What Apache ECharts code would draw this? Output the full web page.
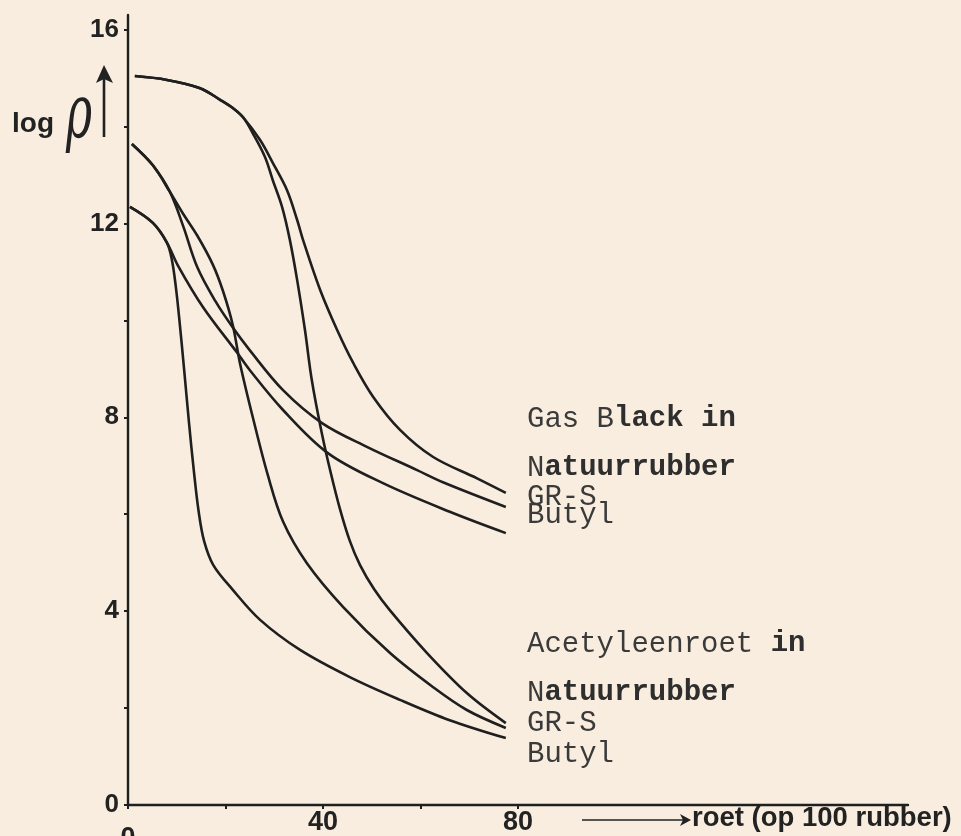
<!DOCTYPE html>
<html>
<head>
<meta charset="utf-8">
<script src="https://cdn.jsdelivr.net/npm/echarts@6/dist/echarts.min.js"></script>
<style>
  html, body { margin: 0; padding: 0; background: #f8edde; }
  #chart { width: 961px; height: 836px; }
</style>
</head>
<body>
<div id="chart"></div>
<script>
// Axis ticks and labels
const xTickValues = [0, 20, 40, 60, 80];
const xLabelValues = [0, 40, 80];
const yTickValues = [0, 2, 4, 6, 8, 10, 12, 14, 16];
const yLabelValues = [0, 4, 8, 12, 16];

// log ρ against parts of carbon black per 100 parts rubber
const gasBlackNatuurrubber = [
  [1.4, 15.04], [8.0, 14.96], [14.8, 14.79], [18.9, 14.55], [21.5, 14.38], [23.6, 14.19],
  [27.1, 13.72], [29.7, 13.25], [32.6, 12.69], [34.7, 12.07], [35.9, 11.66], [39.4, 10.63],
  [42.9, 9.80], [46.2, 9.12], [50.3, 8.42], [55.8, 7.74], [62.6, 7.18], [71.6, 6.74], [77.5, 6.44]
];
const gasBlackGRS = [
  [0.8, 13.64], [5.1, 13.2], [8.6, 12.65], [11.3, 11.95], [14.2, 11.1], [17.9, 10.4],
  [21.5, 9.85], [25.0, 9.38], [31.8, 8.56], [39.8, 7.88], [49.0, 7.39], [59.3, 6.91],
  [64.6, 6.66], [77.5, 6.15]
];
const gasBlackButyl = [
  [0.4, 12.34], [5.1, 12.01], [8.0, 11.6], [10.3, 11.12], [15.4, 10.27], [22.4, 9.33],
  [25.0, 8.97], [31.8, 8.15], [41.0, 7.26], [52.3, 6.64], [66.0, 6.05], [77.5, 5.61]
];
const acetyleenNatuurrubber = [
  [1.4, 15.04], [8.0, 14.96], [14.8, 14.79], [18.9, 14.55], [21.5, 14.38], [23.6, 14.19],
  [25.6, 13.86], [28.1, 13.37], [29.7, 12.89], [31.6, 12.34], [33.2, 11.66], [34.7, 10.83],
  [36.3, 9.80], [37.7, 8.77], [39.8, 7.65], [41.6, 6.85], [43.5, 6.1], [45.5, 5.45],
  [47.6, 4.95], [50.5, 4.45], [53.7, 4.02], [61.3, 3.14], [69.5, 2.31], [77.5, 1.69]
];
const acetyleenGRS = [
  [0.8, 13.64], [5.1, 13.2], [8.6, 12.65], [11.3, 12.2], [14.2, 11.75], [17.4, 11.15],
  [19.5, 10.6], [21.5, 9.9], [23.0, 9.1], [25.6, 8.0], [28.7, 6.8], [31.8, 5.85],
  [36.7, 4.99], [44.1, 4.09], [53.7, 3.14], [62.6, 2.43], [69.5, 1.96], [77.5, 1.59]
];
const acetyleenButyl = [
  [0.4, 12.34], [5.1, 12.01], [8.0, 11.6], [9.0, 11.25], [9.8, 10.7], [10.6, 9.95],
  [11.5, 9.0], [12.5, 7.9], [13.5, 6.9], [14.5, 6.05], [15.6, 5.45], [17.5, 4.95],
  [21.5, 4.44], [27.1, 3.82], [35.3, 3.20], [45.5, 2.64], [55.8, 2.17], [66.0, 1.75], [77.5, 1.38]
];

const ink = '#1f1f1f';
const typeInk = '#3a3a3a';
const typeFont = '"Liberation Mono", "Courier New", monospace';
const sansFont = '"Liberation Sans", Arial, sans-serif';

function curve(name, data) {
  return {
    name: name,
    type: 'line',
    data: data,
    smooth: 0.35,
    showSymbol: false,
    lineStyle: { color: ink, width: 2.6 },
    z: 3
  };
}

// Typewritten caption line; r = plain strike, b = heavy strike
function typed(x, y, text) {
  return {
    type: 'text',
    x: x, y: y,
    style: {
      text: text,
      fill: typeInk,
      font: '29px ' + typeFont,
      verticalAlign: 'middle',
      rich: {
        r: { fontFamily: typeFont, fontSize: 29, fontWeight: 'normal', fill: typeInk },
        b: { fontFamily: typeFont, fontSize: 29, fontWeight: 'bold', fill: '#2e2e2e' }
      }
    }
  };
}

const chart = echarts.init(document.getElementById('chart'), null, { renderer: 'canvas' });
chart.setOption({
  backgroundColor: '#f8edde',
  animation: false,
  grid: { left: 128, right: 53, top: 15, bottom: 31, containLabel: false, outerBoundsMode: 'none' },
  xAxis: {
    type: 'value',
    min: 0,
    max: 160,
    splitLine: { show: false },
    axisLine: { lineStyle: { color: ink, width: 2.4 } },
    axisTick: { customValues: xTickValues, length: 4, lineStyle: { color: ink, width: 2 } },
    axisLabel: {
      customValues: xLabelValues,
      margin: 4,
      color: '#222',
      fontFamily: sansFont,
      fontWeight: 'bold',
      fontSize: 27,
      formatter: v => v === 0 ? '{lo|0}' : String(v),
      rich: { lo: { padding: [16, 0, 0, 0], fontFamily: sansFont, fontWeight: 'bold', fontSize: 27, color: '#222' } }
    }
  },
  yAxis: {
    type: 'value',
    min: 0,
    max: 16.3,
    splitLine: { show: false },
    axisLine: { lineStyle: { color: ink, width: 2.4 } },
    axisTick: { customValues: yTickValues, length: 4, lineStyle: { color: ink, width: 2 } },
    axisLabel: {
      customValues: yLabelValues,
      margin: 9,
      color: '#222',
      fontFamily: sansFont,
      fontWeight: 'bold',
      fontSize: 26
    }
  },
  series: [
    curve('Gas Black – Natuurrubber', gasBlackNatuurrubber),
    curve('Gas Black – GR-S', gasBlackGRS),
    curve('Gas Black – Butyl', gasBlackButyl),
    curve('Acetyleenroet – Natuurrubber', acetyleenNatuurrubber),
    curve('Acetyleenroet – GR-S', acetyleenGRS),
    curve('Acetyleenroet – Butyl', acetyleenButyl)
  ],
  graphic: [
    // y-axis title: log ρ with upward arrow
    {
      type: 'text', x: 12, y: 124,
      style: { text: 'log', fill: '#222', font: 'bold 28px ' + sansFont, verticalAlign: 'middle' }
    },
    {
      type: 'text', x: 79, y: 118, scaleX: 0.6, scaleY: 1,
      style: { text: 'ρ', fill: '#222', font: 'italic 74px "DejaVu Serif", serif', align: 'center', verticalAlign: 'middle' }
    },
    {
      type: 'line',
      shape: { x1: 104, y1: 137, x2: 104, y2: 76 },
      style: { stroke: '#222', lineWidth: 2.6 }
    },
    {
      type: 'polygon',
      shape: { points: [[104, 65], [96, 83], [104, 79], [113, 83]] },
      style: { fill: '#222' }
    },
    // x-axis title: arrow and "roet (op 100 rubber)"
    {
      type: 'line',
      shape: { x1: 582, y1: 820, x2: 684, y2: 820 },
      style: { stroke: '#222', lineWidth: 1.6 }
    },
    {
      type: 'polygon',
      shape: { points: [[691, 820], [680, 814], [683, 820], [680, 826]] },
      style: { fill: '#222' }
    },
    {
      type: 'text', x: 692, y: 818,
      style: { text: 'roet (op 100 rubber)', fill: '#222', font: 'bold 27.5px ' + sansFont, verticalAlign: 'middle' }
    },
    // captions for the two groups of curves
    typed(527, 419, '{r|Gas B}{b|lack in}'),
    typed(527, 468, '{r|N}{b|atuurrubber}'),
    typed(527, 497, '{r|GR-S}'),
    typed(527, 515, '{r|Butyl}'),
    typed(527, 644, '{r|Acetyleenroet }{b|in}'),
    typed(527, 693, '{r|N}{b|atuurrubber}'),
    typed(527, 723, '{r|GR-S}'),
    typed(527, 754, '{r|Butyl}')
  ]
});
</script>
</body>
</html>
